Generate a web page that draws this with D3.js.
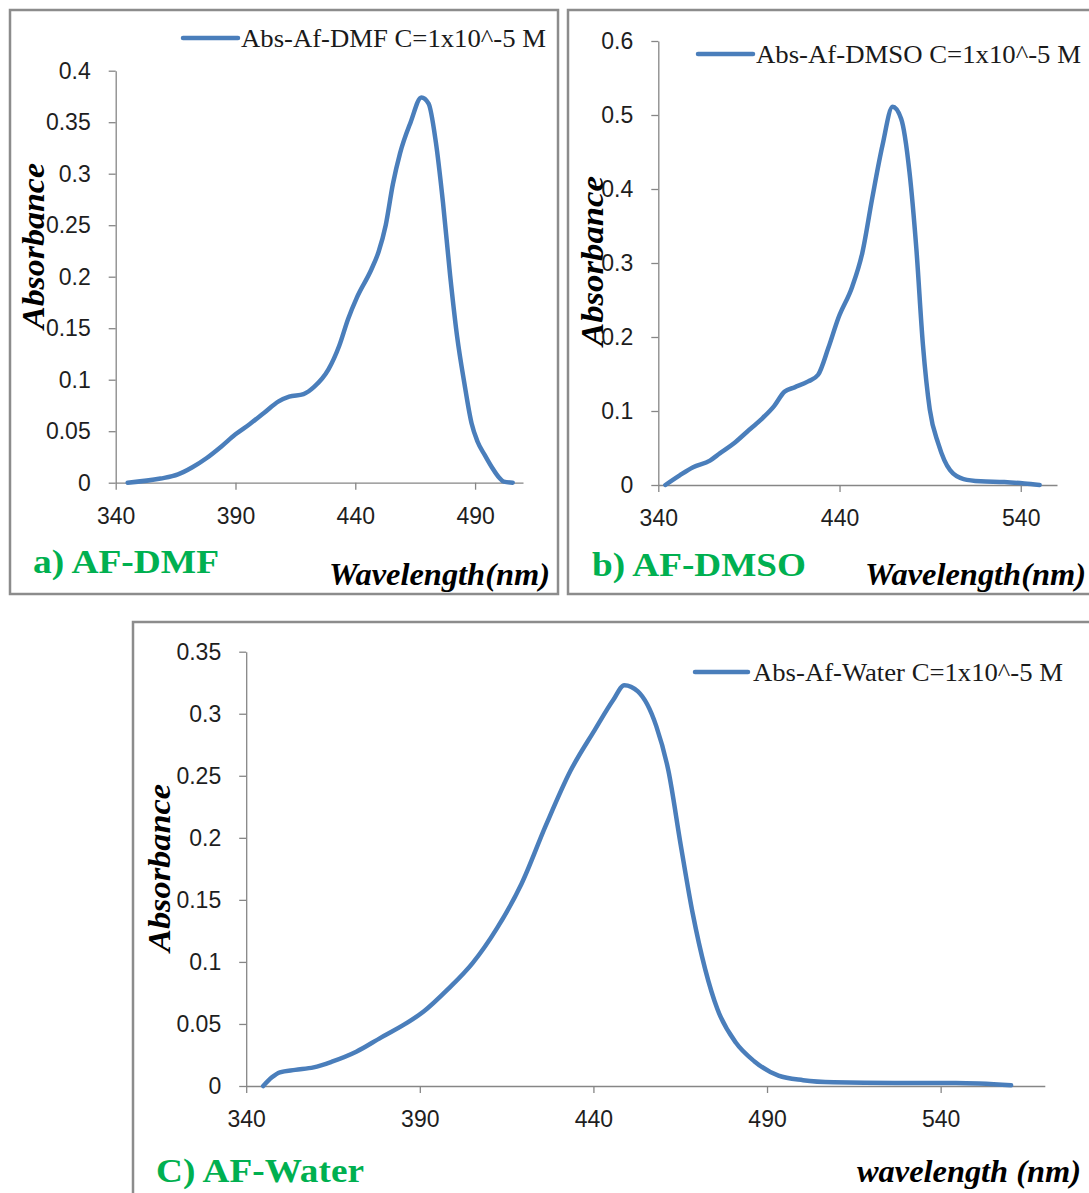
<!DOCTYPE html>
<html><head><meta charset="utf-8">
<script src="https://cdn.jsdelivr.net/npm/d3@7"></script>
<style>body{margin:0;background:#fff}svg{display:block}</style>
</head><body>
<svg id="c" width="1089" height="1193"></svg>
<script>
// ---------- data ----------
const dmfWavelength = [345,358.7,366,372,378,384,390,396,402,408,412.4,418.4,422.8,428.8,433.3,437,440.7,446.7,449.7,452.7,455.7,458.7,463.1,467.6,470.6,473.6,476.6,479.6,482.5,485.5,488.5,491,494,497,500,502,505.7];
const dmfAbsorbance = [0,0.004,0.008,0.015,0.024,0.035,0.047,0.057,0.068,0.079,0.0836,0.086,0.093,0.110,0.133,0.159,0.180,0.207,0.224,0.250,0.290,0.320,0.350,0.374,0.368,0.331,0.272,0.201,0.142,0.097,0.058,0.040,0.027,0.015,0.005,0.001,0];

const dmsoWavelength = [343.9,351.8,359.2,368.5,374.1,381.6,389,396.5,404,409.6,415.2,422.7,428.2,433.8,439.4,447,452.6,458,463.7,469.3,474,478.6,482.4,486,489.8,494.5,501,508.5,517.8,530.9,542,550.4];
const dmsoAbsorbance = [0,0.013,0.024,0.033,0.043,0.056,0.072,0.088,0.107,0.126,0.132,0.140,0.149,0.185,0.226,0.268,0.314,0.387,0.459,0.511,0.495,0.423,0.319,0.190,0.102,0.056,0.020,0.008,0.005,0.004,0.002,0];

const waterWavelength = [344.9,347.4,349.7,354.1,359.4,364.7,371.7,378.8,385.8,391.1,398.1,405.2,412.2,419.3,426.3,433.4,440.4,445.7,448.9,452.8,458.1,461.6,465.1,468.6,472.2,475.7,481,486.3,493.3,500.4,509.2,526.8,544.4,560.3];
const waterAbsorbance = [0,0.007,0.011,0.013,0.015,0.0196,0.0276,0.039,0.050,0.060,0.078,0.099,0.127,0.163,0.210,0.254,0.287,0.311,0.323,0.318,0.290,0.254,0.195,0.139,0.094,0.062,0.035,0.020,0.0083,0.0047,0.003,0.0024,0.0024,0.0006];

const dmfXTicks = [340,390,440,490];
const dmfYTicks = [0,0.05,0.1,0.15,0.2,0.25,0.3,0.35,0.4];
const dmsoXTicks = [340,440,540];
const dmsoYTicks = [0,0.1,0.2,0.3,0.4,0.5,0.6];
const waterXTicks = [340,390,440,490,540];
const waterYTicks = [0,0.05,0.1,0.15,0.2,0.25,0.3,0.35];

const legendLabels = ["Abs-Af-DMF C=1x10^-5 M","Abs-Af-DMSO C=1x10^-5 M","Abs-Af-Water C=1x10^-5 M"];
const panelLabels = ["a) AF-DMF","b) AF-DMSO","C) AF-Water"];
const xTitles = ["Wavelength(nm)","Wavelength(nm)","wavelength (nm)"];
const yTitle = "Absorbance";

// ---------- layout ----------
const svg = d3.select("#c");
const lineColor = "#4a7ebb", axisColor = "#868686", green = "#00b050";
const serif = "'Liberation Serif','Times New Roman',serif";
const sans = "'Liberation Sans',Arial,sans-serif";

const panels = [
  {wl: dmfWavelength, ab: dmfAbsorbance, xt: dmfXTicks, yt: dmfYTicks, xd:[340,510], yd:[0,0.4],
   xr:[115.7,523.0], yr:[482.7,70.7], frame:[10,10,548,584],
   leg:{x1:183,x2:238,y:38,tx:241,ty:47,tl:305},
   ylab:{x:44,y:246,tl:166}, xlab:{x:329,y:585,tl:221}, plab:{x:33,y:573,tl:186}},
  {wl: dmsoWavelength, ab: dmsoAbsorbance, xt: dmsoXTicks, yt: dmsoYTicks, xd:[340,560], yd:[0,0.6],
   xr:[658.3,1057.0], yr:[485,41], frame:[568,10,540,584],
   leg:{x1:698,x2:753,y:54,tx:756,ty:63,tl:325},
   ylab:{x:603,y:261,tl:170}, xlab:{x:865,y:585,tl:221}, plab:{x:592,y:576,tl:214}},
  {wl: waterWavelength, ab: waterAbsorbance, xt: waterXTicks, yt: waterYTicks, xd:[340,570], yd:[0,0.35],
   xr:[246.2,1044.8], yr:[1086,651.7], frame:[133,622,990,600],
   leg:{x1:695,x2:748,y:672,tx:753,ty:681,tl:310},
   ylab:{x:170,y:868,tl:168}, xlab:{x:857,y:1182,tl:224}, plab:{x:156,y:1182,tl:208}}
];

panels.forEach((p, i) => {
  const g = svg.append("g");
  g.append("rect").attr("x", p.frame[0]).attr("y", p.frame[1])
    .attr("width", p.frame[2]).attr("height", p.frame[3])
    .attr("fill", "#fff").attr("stroke", "#8c8c8c").attr("stroke-width", 2.5);

  const x = d3.scaleLinear().domain(p.xd).range(p.xr);
  const y = d3.scaleLinear().domain(p.yd).range(p.yr);

  const xAxis = g.append("g").attr("transform", `translate(0,${p.yr[0]})`)
    .call(d3.axisBottom(x).tickValues(p.xt).tickFormat(d => d).tickSize(7).tickSizeOuter(0).tickPadding(18));
  const yAxis = g.append("g").attr("transform", `translate(${p.xr[0]},0)`)
    .call(d3.axisLeft(y).tickValues(p.yt).tickFormat(d => String(+d.toFixed(2))).tickSize(7).tickSizeOuter(0).tickPadding(18));
  [xAxis, yAxis].forEach(a => {
    a.select(".domain").attr("stroke", axisColor).attr("stroke-width", 1.3);
    a.selectAll(".tick line").attr("stroke", axisColor).attr("stroke-width", 1.3);
    a.selectAll(".tick text").attr("fill", "#1e1e1e").style("font-family", sans).style("font-size", "23px");
  });

  const line = d3.line().x((d, k) => x(p.wl[k])).y(d => y(d)).curve(d3.curveMonotoneX);
  g.append("path").attr("d", line(p.ab)).attr("fill", "none")
    .attr("stroke", lineColor).attr("stroke-width", 4.5).attr("stroke-linejoin", "round").attr("stroke-linecap", "round");

  // legend
  g.append("line").attr("x1", p.leg.x1).attr("x2", p.leg.x2).attr("y1", p.leg.y).attr("y2", p.leg.y)
    .attr("stroke", lineColor).attr("stroke-width", 4.5).attr("stroke-linecap", "round");
  g.append("text").attr("x", p.leg.tx).attr("y", p.leg.ty).text(legendLabels[i])
    .attr("textLength", p.leg.tl).attr("lengthAdjust", "spacingAndGlyphs")
    .style("font-family", serif).style("font-size", "25px").attr("fill", "#1a1a1a");

  // y title
  g.append("text").attr("transform", `translate(${p.ylab.x},${p.ylab.y}) rotate(-90)`)
    .attr("text-anchor", "middle").text(yTitle)
    .attr("textLength", p.ylab.tl).attr("lengthAdjust", "spacingAndGlyphs")
    .style("font-family", serif).style("font-size", "31px").style("font-weight", "bold").style("font-style", "italic");
  // x title
  g.append("text").attr("x", p.xlab.x).attr("y", p.xlab.y).text(xTitles[i])
    .attr("textLength", p.xlab.tl).attr("lengthAdjust", "spacingAndGlyphs")
    .style("font-family", serif).style("font-size", "32px").style("font-weight", "bold").style("font-style", "italic");
  // panel label
  g.append("text").attr("x", p.plab.x).attr("y", p.plab.y).text(panelLabels[i])
    .attr("textLength", p.plab.tl).attr("lengthAdjust", "spacingAndGlyphs").attr("fill", green)
    .style("font-family", serif).style("font-size", "34px").style("font-weight", "bold");
});
</script>
</body></html>
